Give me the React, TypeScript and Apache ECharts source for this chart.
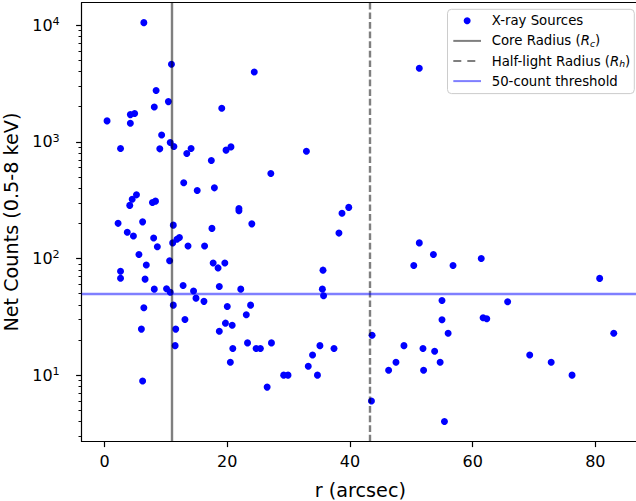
import React, { useEffect, useRef } from "react";
import * as echarts from "echarts";

// r (arcsec) of each X-ray source
const rArcsec = [
  6.4, 10.9, 24.4, 8.4, 10.4, 8.1, 19.1, 4.2, 4.9, 0.4,
  4.2, 9.3, 2.6, 9.0, 10.7, 11.3, 14.1, 13.4, 19.8, 20.6,
  17.4, 51.3, 32.9, 27.1, 12.9, 15.1, 17.9, 5.2, 4.5, 4.1,
  7.8, 8.3, 21.9, 21.9, 2.2, 6.2, 11.2, 17.5, 24.0, 3.7,
  4.7, 8.0, 12.2, 11.8, 11.1, 8.6, 13.6, 16.3, 5.6, 10.6,
  6.8, 17.7, 19.6, 18.5, 2.6, 2.6, 6.6, 8.1, 10.1, 10.7,
  12.8, 14.5, 18.7, 22.2, 14.9, 16.2, 6.4, 11.2, 20.0, 23.8,
  23.1, 13.1, 6.0, 11.6, 19.7, 20.8, 18.7, 11.5, 20.9, 23.3,
  24.7, 25.4, 27.2, 20.5, 6.2, 26.5, 29.2, 29.9, 33.2, 33.9,
  35.1, 34.7, 37.4, 43.6, 43.5, 48.8, 47.5, 46.3, 51.9, 52.0,
  53.8, 54.7, 55.0, 55.0, 56.0, 55.4, 39.8, 38.7, 38.2, 35.6,
  35.5, 35.7, 51.3, 53.6, 50.4, 56.8, 61.4, 80.7, 65.7, 61.7,
  62.3, 83.0, 69.3, 72.8, 76.2,
];

// Net counts (0.5-8 keV) of each source, same order
const netCounts = [
  10500, 4620, 3970, 2750, 2210, 1990, 1940, 1710, 1750, 1510,
  1440, 1145, 877, 870, 986, 912, 877, 794, 848, 904,
  692, 4270, 830, 535, 445, 383, 403, 351, 322, 285,
  302, 310, 268, 256, 200, 206, 193, 181, 198, 168,
  156, 150, 151, 146, 136, 126, 128, 128, 108, 95.5,
  88, 91.6, 91.6, 83, 77.8, 67.8, 66.5, 54.6, 55, 51.4,
  58.7, 52.7, 57.5, 54.6, 45.7, 42.9, 37.8, 39.8, 38.8, 39.8,
  32.9, 30, 24.8, 24.8, 27.9, 26.8, 23.8, 17.9, 16.9, 18.9,
  16.9, 16.9, 18.9, 12.9, 8.9, 7.9, 10, 10, 11.9, 14.9,
  17.9, 10, 16.9, 22, 6.0, 17.9, 12.9, 11, 16.9, 11,
  16, 12.9, 43.6, 29.8, 22.9, 4.0, 274, 244, 165, 79.4,
  54.6, 47.9, 136, 108, 87, 87, 100, 67.5, 42.5, 31,
  30.4, 22.9, 14.9, 12.9, 10,
];

const coreRadius = 10.9;
const halfLightRadius = 43.3;
const countThreshold = 50;

const xTicks = [0, 20, 40, 60, 80];
const yMajorTicks = [10, 100, 1000, 10000];
const yMinorTicks = [
  3, 4, 5, 6, 7, 8, 9,
  20, 30, 40, 50, 60, 70, 80, 90,
  200, 300, 400, 500, 600, 700, 800, 900,
  2000, 3000, 4000, 5000, 6000, 7000, 8000, 9000,
];
const xRange = [-3.73, 87.13];
const yRange = [2.7, 15560];

const FONT = "DejaVu Sans";

export default function App() {
  const ref = useRef<HTMLDivElement>(null);

  useEffect(() => {
    if (!ref.current) return;
    const chart = echarts.init(ref.current, null, { renderer: "svg" });

    const points = rArcsec.map((r, i) => [r, netCounts[i]]);
    const spine = { show: true, onZero: false, lineStyle: { color: "#000", width: 1.2 } };
    const lineLegendItem = { opacity: 0, color: "transparent", borderWidth: 0 };

    const option: any = {
      animation: false,
      backgroundColor: "#fff",
      grid: {
        left: 81.7,
        right: -3.1,
        top: 2.7,
        bottom: 59.5,
        containLabel: false,
        outerBoundsMode: "none",
      },
      legend: {
        left: 447.5,
        top: 9.3,
        orient: "vertical",
        align: "left",
        itemWidth: 27.7,
        itemHeight: 7,
        itemGap: 6.1,
        padding: [4.5, 4, 5.5, 4.8],
        backgroundColor: "rgba(255,255,255,0.8)",
        borderColor: "#cccccc",
        borderWidth: 1,
        borderRadius: 4,
        selectedMode: false,
        textStyle: {
          fontFamily: FONT,
          fontSize: 13.3,
          color: "#000",
          lineHeight: 14,
          padding: [0, 0, 0, 5.7],
          rich: {
            it: { fontFamily: FONT, fontSize: 13.3, fontStyle: "italic", color: "#000", lineHeight: 14 },
            sub: { fontFamily: FONT, fontSize: 9.3, fontStyle: "italic", color: "#000", lineHeight: 6, verticalAlign: "bottom" },
          },
        },
        formatter: (name: string) => {
          if (name === "Core Radius") return "Core Radius ({it|R}{sub|c})";
          if (name === "Half-light Radius") return "Half-light Radius ({it|R}{sub|h})";
          return name;
        },
        data: [
          { name: "X-ray Sources", icon: "circle" },
          { name: "Core Radius", itemStyle: lineLegendItem },
          { name: "Half-light Radius", itemStyle: lineLegendItem, lineStyle: { type: [8, 6] } },
          { name: "50-count threshold", itemStyle: lineLegendItem },
        ],
      },
      xAxis: [
        {
          type: "value",
          min: xRange[0],
          max: xRange[1],
          position: "bottom",
          name: "r (arcsec)",
          nameLocation: "middle",
          nameGap: 39,
          nameTextStyle: { fontFamily: FONT, fontSize: 19.2, color: "#000" },
          axisLine: spine,
          axisTick: { show: true, length: 5.6, lineStyle: { color: "#000", width: 1.2 }, customValues: xTicks },
          axisLabel: { fontFamily: FONT, fontSize: 16, color: "#000", margin: 12, customValues: xTicks },
          splitLine: { show: false },
        },
        {
          type: "value",
          min: xRange[0],
          max: xRange[1],
          position: "top",
          axisLine: spine,
          axisTick: { show: false },
          axisLabel: { show: false },
          splitLine: { show: false },
        },
      ],
      yAxis: [
        {
          type: "log",
          logBase: 10,
          min: yRange[0],
          max: yRange[1],
          position: "left",
          name: "Net Counts (0.5-8 keV)",
          nameLocation: "middle",
          nameGap: 50,
          nameTextStyle: { fontFamily: FONT, fontSize: 19.2, color: "#000" },
          axisLine: spine,
          axisTick: { show: true, length: 5.6, lineStyle: { color: "#000", width: 1.2 }, customValues: yMajorTicks },
          axisLabel: {
            margin: 22,
            customValues: yMajorTicks,
            formatter: (v: number) => `{b|10}{s|${Math.round(Math.log10(v))}}`,
            rich: {
              b: { fontFamily: FONT, fontSize: 16, color: "#000", lineHeight: 18 },
              s: { fontFamily: FONT, fontSize: 11.2, color: "#000", lineHeight: 4, verticalAlign: "top" },
            },
          },
          splitLine: { show: false },
        },
        {
          type: "log",
          logBase: 10,
          min: yRange[0],
          max: yRange[1],
          position: "left",
          axisLine: { show: false, onZero: false },
          axisTick: { show: true, length: 3.2, lineStyle: { color: "#000", width: 0.96 }, customValues: yMinorTicks },
          axisLabel: { show: false },
          splitLine: { show: false },
        },
      ],
      series: [
        {
          name: "X-ray Sources",
          type: "scatter",
          xAxisIndex: 0,
          yAxisIndex: 0,
          data: points,
          symbol: "circle",
          symbolSize: 7,
          itemStyle: { color: "#0000ff", opacity: 1 },
          silent: true,
          z: 2,
        },
        {
          name: "Core Radius",
          type: "line",
          xAxisIndex: 0,
          yAxisIndex: 0,
          data: [],
          symbol: "none",
          color: "rgba(0,0,0,0.5)",
          lineStyle: { color: "rgba(0,0,0,0.5)", width: 2.4, type: "solid" },
          z: 3,
          markLine: {
            silent: true,
            animation: false,
            symbol: ["none", "none"],
            label: { show: false },
            lineStyle: { color: "rgba(0,0,0,0.5)", width: 2.4, type: "solid" },
            data: [{ xAxis: coreRadius }],
          },
        },
        {
          name: "Half-light Radius",
          type: "line",
          xAxisIndex: 0,
          yAxisIndex: 0,
          data: [],
          symbol: "none",
          color: "rgba(0,0,0,0.5)",
          lineStyle: { color: "rgba(0,0,0,0.5)", width: 2.4, type: [6.7, 2.9] },
          z: 3,
          markLine: {
            silent: true,
            animation: false,
            symbol: ["none", "none"],
            label: { show: false },
            lineStyle: { color: "rgba(0,0,0,0.5)", width: 2.4, type: [6.7, 2.9] },
            data: [{ xAxis: halfLightRadius }],
          },
        },
        {
          name: "50-count threshold",
          type: "line",
          xAxisIndex: 0,
          yAxisIndex: 0,
          data: [],
          symbol: "none",
          color: "rgba(0,0,255,0.5)",
          lineStyle: { color: "rgba(0,0,255,0.5)", width: 2.4, type: "solid" },
          z: 3,
          markLine: {
            silent: true,
            animation: false,
            symbol: ["none", "none"],
            label: { show: false },
            lineStyle: { color: "rgba(0,0,255,0.5)", width: 2.4, type: "solid" },
            data: [{ yAxis: countThreshold }],
          },
        },
      ],
    };

    chart.setOption(option);
    return () => chart.dispose();
  }, []);

  return (
    <div
      ref={ref}
      style={{ position: "fixed", left: 0, top: 0, width: 636, height: 501, overflow: "hidden" }}
    />
  );
}
